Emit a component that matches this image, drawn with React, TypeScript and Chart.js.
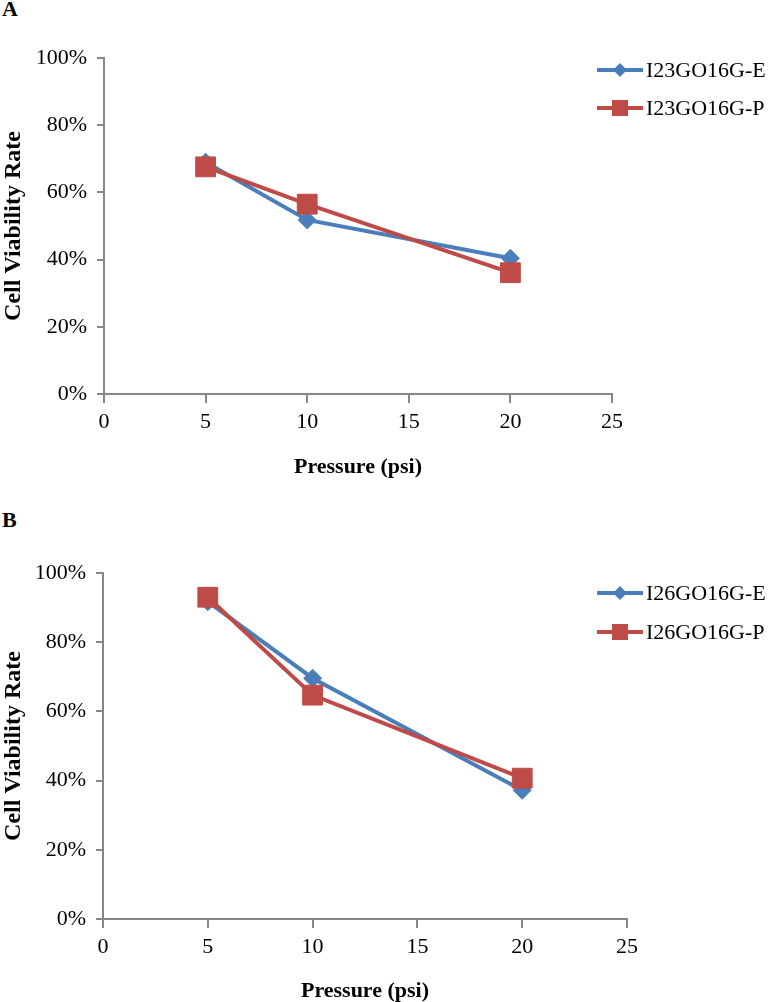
import React, { useEffect, useRef } from "react";
import { Chart, registerables, ChartConfiguration, Plugin } from "chart.js";

Chart.register(...registerables);

// pressure levels (psi) shared by both panels
const pressurePsi = [5, 10, 20];

// panel A: cell viability rate (fraction)
const viabilityA_E = [0.69, 0.518, 0.404];
const viabilityA_P = [0.676, 0.565, 0.361];

// panel B
const viabilityB_E = [0.917, 0.696, 0.372];
const viabilityB_P = [0.93, 0.647, 0.407];

const seriesNamesA = ["I23GO16G-E", "I23GO16G-P"];
const seriesNamesB = ["I26GO16G-E", "I26GO16G-P"];

const BLUE = "#4a7ebb";
const RED = "#be4b48";
const AXIS = "#878787";
const SERIF = "'Liberation Serif', 'Times New Roman', serif";

type Area = { left: number; right: number; top: number; bottom: number };

interface PanelProps {
  top: number;
  height: number;
  area: Area;
  names: string[];
  eValues: number[];
  pValues: number[];
  legendRows: number[];
  xTitlePad: number;
}

// Excel-style legend: a short line with the marker in its middle
const sideLegend: Plugin = {
  id: "sideLegend",
  afterDraw(chart, _args, opts: any) {
    const { ctx } = chart;
    const x0 = 597;
    const x1 = 643;
    const mid = (x0 + x1) / 2;
    ctx.save();
    chart.data.datasets.forEach((ds: any, i: number) => {
      const y = opts.rows[i];
      ctx.strokeStyle = ds.borderColor;
      ctx.lineWidth = 4;
      ctx.beginPath();
      ctx.moveTo(x0, y);
      ctx.lineTo(x1, y);
      ctx.stroke();
      ctx.fillStyle = ds.borderColor;
      ctx.beginPath();
      if (ds.pointStyle === "rectRot") {
        const r = 7;
        ctx.moveTo(mid - r, y);
        ctx.lineTo(mid, y - r);
        ctx.lineTo(mid + r, y);
        ctx.lineTo(mid, y + r);
        ctx.closePath();
      } else {
        ctx.rect(mid - 8, y - 8, 16, 16);
      }
      ctx.fill();
      ctx.fillStyle = "#000";
      ctx.font = `22px ${SERIF}`;
      ctx.textBaseline = "middle";
      ctx.fillText(ds.label, 646, y + 1);
    });
    ctx.restore();
  },
};

const Panel: React.FC<PanelProps> = ({ top, height, area, names, eValues, pValues, legendRows, xTitlePad }) => {
  const canvasRef = useRef<HTMLCanvasElement>(null);
  const chartRef = useRef<Chart | null>(null);

  useEffect(() => {
    if (!canvasRef.current) return;
    if (chartRef.current) chartRef.current.destroy();

    const config: ChartConfiguration<"line"> = {
      type: "line",
      data: {
        datasets: [
          {
            label: names[0],
            data: pressurePsi.map((p, i) => ({ x: p, y: eValues[i] })),
            borderColor: BLUE,
            backgroundColor: BLUE,
            borderWidth: 4,
            pointStyle: "rectRot",
            pointRadius: 9,
            pointBorderWidth: 1,
            order: 1,
          },
          {
            label: names[1],
            data: pressurePsi.map((p, i) => ({ x: p, y: pValues[i] })),
            borderColor: RED,
            backgroundColor: RED,
            borderWidth: 4,
            pointStyle: "rect",
            pointRadius: 14,
            pointBorderWidth: 1,
            order: 0,
          },
        ],
      },
      options: {
        responsive: false,
        animation: false,
        events: [],
        layout: {
          padding: { left: 0, top: area.top, right: 772 - area.right, bottom: 0 },
        },
        plugins: {
          legend: { display: false },
          tooltip: { enabled: false },
          sideLegend: { rows: legendRows },
        } as any,
        scales: {
          x: {
            type: "linear",
            min: 0,
            max: 25,
            ticks: { stepSize: 5, color: "#000", padding: 6, font: { family: SERIF, size: 22 } },
            grid: { drawOnChartArea: false, tickLength: 9, color: AXIS, lineWidth: 2 },
            border: { color: AXIS, width: 2 },
            title: {
              display: true,
              text: "Pressure (psi)",
              color: "#000",
              padding: { top: 0, bottom: xTitlePad },
              font: { family: SERIF, size: 22, weight: "bold", lineHeight: 1 },
            },
            afterFit: (s: any) => {
              s.height = height - area.bottom;
            },
          },
          y: {
            min: 0,
            max: 1,
            ticks: {
              stepSize: 0.2,
              color: "#000",
              padding: 10,
              font: { family: SERIF, size: 22 },
              callback: (v: any) => `${Math.round(Number(v) * 100)}%`,
            },
            grid: { drawOnChartArea: false, tickLength: 7, color: AXIS, lineWidth: 2 },
            border: { color: AXIS, width: 2 },
            title: {
              display: true,
              text: "Cell Viability Rate",
              color: "#000",
              padding: { top: 2, bottom: 0 },
              font: { family: SERIF, size: 24, weight: "bold", lineHeight: 1 },
            },
            afterFit: (s: any) => {
              s.width = area.left;
            },
          },
        },
      },
      plugins: [sideLegend],
    };

    chartRef.current = new Chart(canvasRef.current, config);
    return () => {
      if (chartRef.current) {
        chartRef.current.destroy();
        chartRef.current = null;
      }
    };
  }, [top, height, area, names, eValues, pValues, legendRows, xTitlePad]);

  return (
    <canvas
      ref={canvasRef}
      width={772}
      height={height}
      style={{ position: "absolute", left: 0, top, width: 772, height }}
    />
  );
};

const areaA = { left: 104, right: 612, top: 58, bottom: 394 };
const areaB = { left: 103, right: 627, top: 73, bottom: 419 };
const legendRowsA = [70, 108];
const legendRowsB = [93, 132];

const panelLabel: React.CSSProperties = {
  position: "absolute",
  left: 2,
  fontFamily: SERIF,
  fontWeight: "bold",
  fontSize: 22,
  lineHeight: "22px",
  color: "#000",
};

export default function App() {
  return (
    <div
      style={{
        position: "absolute",
        left: 0,
        top: 0,
        width: 772,
        height: 1002,
        overflow: "hidden",
        background: "#fff",
      }}
    >
      <div style={{ ...panelLabel, top: -2 }}>A</div>
      <div style={{ ...panelLabel, top: 509 }}>B</div>
      <Panel
        top={0}
        height={500}
        area={areaA}
        names={seriesNamesA}
        eValues={viabilityA_E}
        pValues={viabilityA_P}
        legendRows={legendRowsA}
        xTitlePad={22}
      />
      <Panel
        top={500}
        height={502}
        area={areaB}
        names={seriesNamesB}
        eValues={viabilityB_E}
        pValues={viabilityB_P}
        legendRows={legendRowsB}
        xTitlePad={0}
      />
    </div>
  );
}
